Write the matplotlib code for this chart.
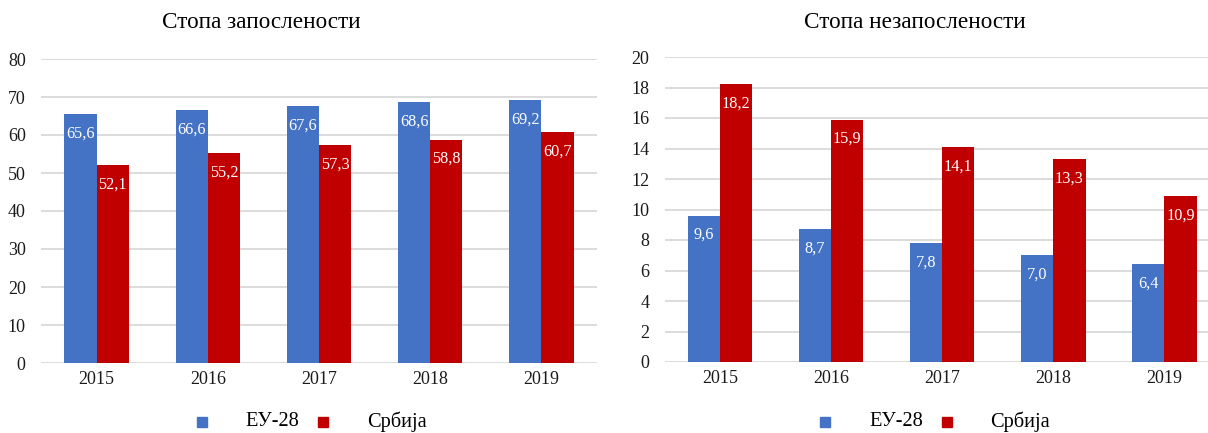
import matplotlib
matplotlib.use("Agg")
import matplotlib.pyplot as plt
import numpy as np

years = ["2015", "2016", "2017", "2018", "2019"]
emp_eu = [65.6, 66.6, 67.6, 68.6, 69.2]
emp_rs = [52.1, 55.2, 57.3, 58.8, 60.7]
unemp_eu = [9.6, 8.7, 7.8, 7.0, 6.4]
unemp_rs = [18.2, 15.9, 14.1, 13.3, 10.9]
series_names = ["ЕУ-28", "Србија"]
titles = ["Стопа запослености", "Стопа незапослености"]

BLUE = "#4472C4"
RED = "#C00000"
FONT = "Liberation Serif"
plt.rcParams["font.family"] = FONT

W, H = 1208, 433
fig = plt.figure(figsize=(W / 100, H / 100), dpi=100)

def px(x0, y0, x1, y1):
    return [x0 / W, 1 - y1 / H, (x1 - x0) / W, (y1 - y0) / H]

def draw(ax, eu, rs, ymax, step):
    x = np.arange(len(years))
    w = 0.29
    b1 = ax.bar(x - w / 2, eu, w, color=BLUE, zorder=3)
    b2 = ax.bar(x + w / 2, rs, w, color=RED, zorder=3)
    ax.set_ylim(0, ymax)
    ax.set_yticks(np.arange(0, ymax + step / 2, step))
    ax.set_xticks(x)
    ax.set_xticklabels(years)
    ax.grid(axis="y", color="#D9D9D9", linewidth=1.3, zorder=0)
    for s in ax.spines.values():
        s.set_visible(False)
    ax.tick_params(axis="both", length=0, labelsize=13, colors="#1a1a1a")
    ax.tick_params(axis="y", pad=11)
    ax.tick_params(axis="x", pad=6)
    for bars, vals in ((b1, eu), (b2, rs)):
        for b, v in zip(bars, vals):
            ax.annotate(f"{v:.1f}".replace(".", ","),
                        (b.get_x() + b.get_width() / 2, v),
                        xytext=(0, -14), textcoords="offset points",
                        ha="center", va="center", color="white",
                        fontsize=11.7, zorder=4)

ax1 = fig.add_axes(px(41, 59, 597, 363))
draw(ax1, emp_eu, emp_rs, 80, 10)
ax1.set_xlim(-0.5, 4.5)

ax2 = fig.add_axes(px(664.5, 57, 1220, 362))
draw(ax2, unemp_eu, unemp_rs, 20, 2)
ax2.set_xlim(-0.5, 4.5)

fig.text(261 / W, 1 - 22 / H, titles[0], ha="center", va="center", fontsize=16.7)
fig.text(915 / W, 1 - 22 / H, titles[1], ha="center", va="center", fontsize=16.7)

def legend(xb, xtb, xr, xtr, y):
    fig.patches.append(plt.Rectangle(((xb - 5) / W, 1 - (y + 5) / H), 10 / W, 10 / H,
                                     transform=fig.transFigure, color=BLUE, figure=fig))
    fig.patches.append(plt.Rectangle(((xr - 5) / W, 1 - (y + 5) / H), 10 / W, 10 / H,
                                     transform=fig.transFigure, color=RED, figure=fig))
    fig.text(xtb / W, 1 - y / H, series_names[0], ha="left", va="center", fontsize=14.7)
    fig.text(xtr / W, 1 - y / H, series_names[1], ha="left", va="center", fontsize=14.7)

legend(202, 245, 323, 367, 422)
legend(825, 869, 947, 990, 422)

fig.savefig("out.png", dpi=100)
